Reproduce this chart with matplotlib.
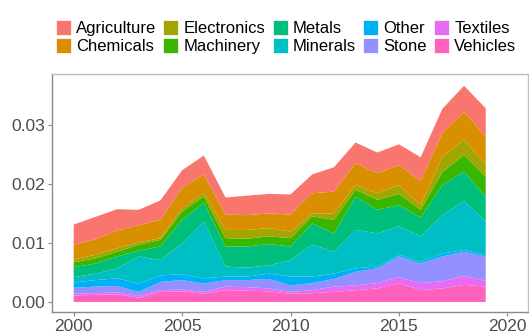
import matplotlib
matplotlib.use('Agg')
import matplotlib.pyplot as plt
from matplotlib.patches import Patch
import numpy as np

years = list(range(2000, 2020))

# shares per sector, bottom of the stack first
vehicles = [0.0011, 0.0012, 0.0013, 0.0007, 0.0017, 0.0018, 0.0014, 0.0020, 0.0019, 0.0018,
            0.0014, 0.0015, 0.0017, 0.0020, 0.0023, 0.0032, 0.0020, 0.0023, 0.0029, 0.0026]
textiles = [0.0003, 0.0003, 0.0003, 0.0003, 0.0003, 0.0003, 0.0003, 0.0006, 0.0006, 0.0005,
            0.0003, 0.0005, 0.0009, 0.0008, 0.0009, 0.0010, 0.0012, 0.0012, 0.0015, 0.0010]
stone = [0.0010, 0.0011, 0.0011, 0.0007, 0.0014, 0.0016, 0.0014, 0.0011, 0.0012, 0.0016,
         0.0011, 0.0012, 0.0013, 0.0023, 0.0025, 0.0035, 0.0033, 0.0042, 0.0041, 0.0041]
other = [0.0009, 0.0011, 0.0013, 0.0014, 0.0011, 0.0010, 0.0009, 0.0006, 0.0006, 0.0009,
         0.0015, 0.0011, 0.0009, 0.0006, 0.0003, 0.0003, 0.0003, 0.0005, 0.0003, 0.0003]
minerals = [0.0009, 0.0011, 0.0017, 0.0046, 0.0026, 0.0052, 0.0096, 0.0017, 0.0015, 0.0014,
            0.0028, 0.0054, 0.0037, 0.0065, 0.0056, 0.0048, 0.0043, 0.0065, 0.0083, 0.0056]
metals = [0.0017, 0.0017, 0.0020, 0.0010, 0.0023, 0.0040, 0.0032, 0.0034, 0.0036, 0.0036,
          0.0023, 0.0036, 0.0031, 0.0056, 0.0040, 0.0036, 0.0032, 0.0051, 0.0050, 0.0042]
machinery = [0.0008, 0.0009, 0.0008, 0.0010, 0.0011, 0.0014, 0.0011, 0.0014, 0.0013, 0.0013,
             0.0014, 0.0012, 0.0023, 0.0012, 0.0017, 0.0019, 0.0013, 0.0022, 0.0028, 0.0034]
electronics = [0.0005, 0.0006, 0.0006, 0.0004, 0.0003, 0.0006, 0.0006, 0.0014, 0.0015, 0.0014,
               0.0011, 0.0005, 0.0011, 0.0008, 0.0011, 0.0015, 0.0008, 0.0026, 0.0026, 0.0020]
chemicals = [0.0025, 0.0026, 0.0030, 0.0029, 0.0031, 0.0034, 0.0031, 0.0026, 0.0025, 0.0025,
             0.0029, 0.0034, 0.0037, 0.0037, 0.0034, 0.0034, 0.0041, 0.0040, 0.0047, 0.0048]
agriculture = [0.0034, 0.0038, 0.0036, 0.0026, 0.0033, 0.0030, 0.0032, 0.0029, 0.0033, 0.0033,
               0.0034, 0.0032, 0.0041, 0.0035, 0.0035, 0.0035, 0.0040, 0.0041, 0.0044, 0.0048]

sectors = ['Agriculture', 'Chemicals', 'Electronics', 'Machinery', 'Metals',
           'Minerals', 'Other', 'Stone', 'Textiles', 'Vehicles']
colors = ['#F8766D', '#D89000', '#A3A500', '#39B600', '#00BF7D',
          '#00BFC4', '#00B0F6', '#9590FF', '#E76BF3', '#FF62BC']

plt.rcParams['font.family'] = ['Liberation Sans', 'DejaVu Sans']

fig = plt.figure(figsize=(5.29, 3.34), dpi=100)
ax = fig.add_axes([52/529, 22/334, 476/529, 238/334])

# ggplot stacks the first level on top, so draw from the last one up
stack = [vehicles, textiles, stone, other, minerals, metals,
         machinery, electronics, chemicals, agriculture]
ax.stackplot(years, *stack, colors=colors[::-1], linewidth=0)

ax.set_xlim(1999.0, 2020.95)
ax.set_ylim(-0.0017, 0.0386)
ax.set_xticks([2000, 2005, 2010, 2015, 2020])
ax.set_yticks([0.00, 0.01, 0.02, 0.03])
ax.set_yticklabels(['0.00', '0.01', '0.02', '0.03'])
ax.tick_params(labelsize=12.5, labelcolor='#4D4D4D', color='#8A8A8A',
               length=3, width=0.8, pad=2)

for s in ['left', 'bottom']:
    ax.spines[s].set_color('#8A8A8A')
    ax.spines[s].set_linewidth(1.0)
for s in ['top', 'right']:
    ax.spines[s].set_color('#BDBDBD')
    ax.spines[s].set_linewidth(1.0)

handles = [Patch(facecolor=c, edgecolor='white', linewidth=0.5) for c in colors]
fig.legend(handles, sectors, loc='center', bbox_to_anchor=(286/529, 1 - 37/334),
           ncol=5, frameon=False, fontsize=12, handlelength=0.9, handleheight=1.05,
           handletextpad=0.3, columnspacing=0.45, labelspacing=0.1, borderpad=0)

fig.savefig('out.png', dpi=100)
